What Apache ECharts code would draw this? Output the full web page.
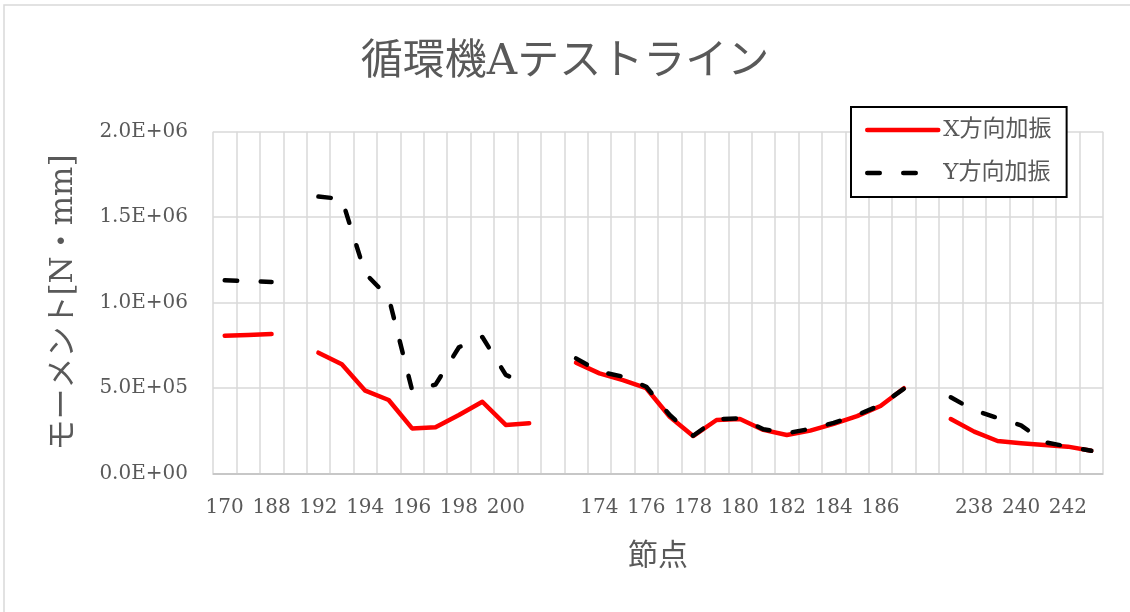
<!DOCTYPE html>
<html>
<head>
<meta charset="utf-8">
<style>
  html, body { margin: 0; padding: 0; background: #ffffff; }
  #chart { width: 1130px; height: 612px; }
</style>
<script src="https://cdn.jsdelivr.net/npm/echarts@6/dist/echarts.min.js"></script>
</head>
<body>
<div id="chart"></div>
<script>
// Node numbers along the line; empty strings separate the measured runs
const categories = [
  '170', '171', '188', '',
  '192', '193', '194', '195', '196', '197', '198', '199', '200', '201', '',
  '173', '174', '175', '176', '177', '178', '179', '180', '181', '182', '183', '184', '185', '186', '187', '',
  '237', '238', '239', '240', '241', '242', '243'
];

// Moment under X-direction excitation [N·mm]
const xExcitation = [
  8.06e5, 8.10e5, 8.15e5, null,
  7.06e5, 6.38e5, 4.84e5, 4.29e5, 2.63e5, 2.69e5, 3.41e5, 4.19e5, 2.83e5, 2.93e5, null,
  6.48e5, 5.85e5, 5.46e5, 4.98e5, 3.31e5, 2.18e5, 3.12e5, 3.18e5, 2.54e5, 2.24e5, 2.50e5, 2.89e5, 3.35e5, 3.94e5, 4.98e5, null,
  3.18e5, 2.44e5, 1.89e5, 1.76e5, 1.66e5, 1.56e5, 1.32e5
];

// Moment under Y-direction excitation [N·mm]
const yExcitation = [
  1.13e6, 1.125e6, 1.12e6, null,
  1.62e6, 1.606e6, 1.17e6, 1.03e6, 4.88e5, 5.19e5, 7.38e5, 7.98e5, 5.76e5, 5.19e5, null,
  6.73e5, 5.95e5, 5.66e5, 5.07e5, 3.41e5, 2.20e5, 3.17e5, 3.22e5, 2.58e5, 2.35e5, 2.60e5, 2.95e5, 3.41e5, 4.00e5, 4.95e5, null,
  4.45e5, 3.69e5, 3.24e5, 2.81e5, 1.83e5, 1.56e5, 1.32e5
];

const seriesNames = ['X方向加振', 'Y方向加振'];
const yTicks = { min: 0, max: 2.0e6, interval: 5.0e5 };

const TEXT = '#595959';
const GRID = '#d9d9d9';
const FONT = "'DejaVu Serif', 'Noto Sans CJK JP', serif";

function sciLabel(v) {
  const [m, e] = Number(v).toExponential(1).split('e');
  const sign = e[0] === '-' ? '-' : '+';
  const digits = e.replace(/[+-]/, '').padStart(2, '0');
  return m + 'E' + sign + digits;
}

const chart = echarts.init(document.getElementById('chart'), null, { renderer: 'canvas' });

chart.setOption({
  backgroundColor: '#ffffff',
  animation: false,
  title: {
    text: '循環機Aテストライン',
    left: 'center',
    top: 37,
    textStyle: { fontFamily: FONT, fontSize: 42, fontWeight: 'normal', color: TEXT }
  },
  graphic: [{
    type: 'rect',
    silent: true,
    shape: { x: 4, y: 5, width: 1140, height: 640 },
    style: { fill: null, stroke: GRID, lineWidth: 1.5 }
  }],
  legend: {
    left: 851,
    top: 107,
    orient: 'vertical',
    backgroundColor: '#ffffff',
    borderColor: '#000000',
    borderWidth: 2,
    borderRadius: 0,
    padding: [11, 15, 12, 14],
    itemWidth: 71,
    itemHeight: 24,
    itemGap: 19,
    itemStyle: { opacity: 0 },
    lineStyle: { width: 4.5, cap: 'round' },
    textStyle: { fontFamily: FONT, fontSize: 23, color: TEXT, lineHeight: 24 },
    data: seriesNames
  },
  grid: { left: 213, right: 27, top: 131.7, bottom: 138.7, containLabel: false },
  xAxis: {
    type: 'category',
    data: categories,
    boundaryGap: true,
    name: '節点',
    nameLocation: 'middle',
    nameGap: 69,
    nameTextStyle: { fontFamily: FONT, fontSize: 30, color: TEXT },
    axisLine: { show: true, lineStyle: { color: '#bfbfbf', width: 1.5 } },
    axisTick: { show: false },
    axisLabel: { interval: 1, margin: 24, fontFamily: FONT, fontSize: 20, color: TEXT },
    splitLine: { show: true, interval: 0, lineStyle: { color: GRID, width: 1.5 } }
  },
  yAxis: {
    type: 'value',
    min: yTicks.min,
    max: yTicks.max,
    interval: yTicks.interval,
    name: 'モーメント[N・mm]',
    nameLocation: 'middle',
    nameGap: 134,
    nameTextStyle: { fontFamily: FONT, fontSize: 31, color: TEXT },
    axisLine: { show: false },
    axisTick: { show: false },
    axisLabel: { margin: 25, fontFamily: FONT, fontSize: 20, color: TEXT, formatter: sciLabel },
    splitLine: { show: true, lineStyle: { color: GRID, width: 1.5 } }
  },
  series: [
    {
      name: seriesNames[0],
      type: 'line',
      data: xExcitation,
      symbol: 'none',
      connectNulls: false,
      lineStyle: { color: '#ff0000', width: 4.5, cap: 'round', join: 'round' },
      itemStyle: { color: '#ff0000' }
    },
    {
      name: seriesNames[1],
      type: 'line',
      data: yExcitation,
      symbol: 'none',
      connectNulls: false,
      lineStyle: { color: '#000000', width: 4.5, type: [12.5, 23.5], cap: 'round', join: 'round' },
      itemStyle: { color: '#000000' }
    }
  ]
});
</script>
</body>
</html>
